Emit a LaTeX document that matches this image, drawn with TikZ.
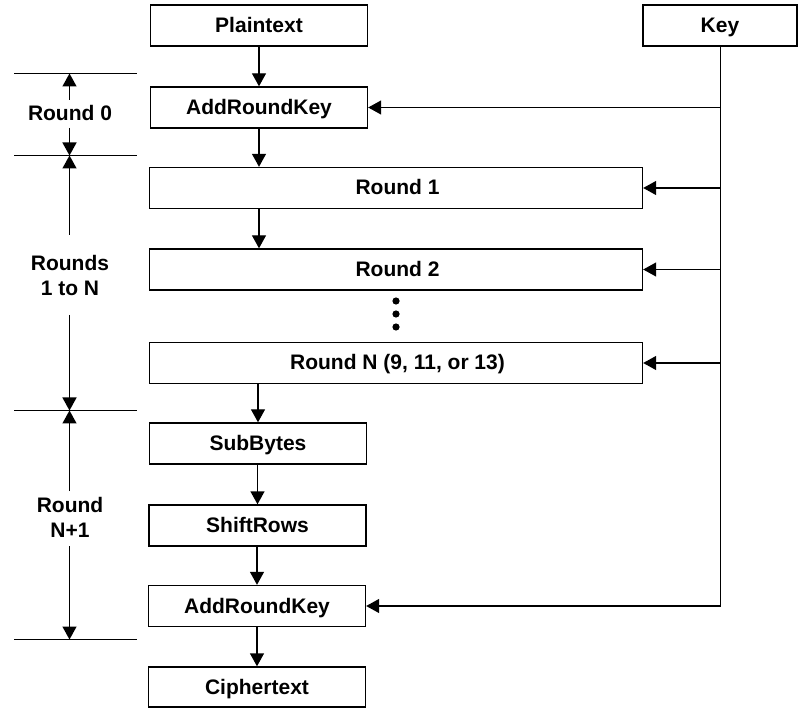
\documentclass[tikz,border=0pt]{standalone}
\usepackage{fontspec}
\setmainfont{Liberation Sans}
\usetikzlibrary{arrows.meta}
\begin{document}
\begin{tikzpicture}[x=1pt,y=-1pt,
  box/.style={draw,line width=1.4pt,inner sep=0pt,minimum height=41pt,text height=15pt,text depth=1pt,font=\fontsize{21}{25}\selectfont\bfseries},
  small/.style={box,minimum width=217pt},
  big/.style={box,minimum width=493pt},
  arr/.style={line width=1.4pt,-{Triangle[length=13pt,width=14pt]}},
  ln/.style={line width=1.4pt},
  lab/.style={align=center,inner sep=0pt,font=\fontsize{21}{25}\selectfont\bfseries}]
\useasboundingbox (0,0) rectangle (798,708);
% boxes
\node[small] (pt) at (259,25.5) {Plaintext};
\node[box,minimum width=154pt] (key) at (720,25.5) {Key};
\node[small] (ark0) at (259,107.5) {AddRoundKey};
\node[big] (r1) at (396,188) {\hspace*{3pt}Round 1};
\node[big] (r2) at (396,269.5) {\hspace*{3pt}Round 2};
\node[big] (rn) at (396,363) {\hspace*{3pt}Round N (9, 11, or 13)};
\node[small] (sb) at (258,443.5) {SubBytes};
\node[small] (sr) at (257.5,525.5) {ShiftRows};
\node[small] (ark2) at (257,606) {AddRoundKey};
\node[small,minimum height=40pt] (ct) at (257,687) {Ciphertext};
% dots
\foreach \yy in {301,314,327} \fill (396,\yy) circle (3.6pt);
% flow
\draw[arr] (pt) -- (ark0);
\draw[arr] (ark0.south) -- (ark0.south |- r1.north);
\draw[arr] (ark0.south |- r1.south) -- (ark0.south |- r2.north);
\draw[arr] (sb.north |- rn.south) -- (sb.north);
\draw[arr] (sr.north |- sb.south) -- (sr.north);
\draw[arr] (ark2.north |- sr.south) -- (ark2.north);
\draw[arr] (ark2) -- (ct);
% key distribution
\coordinate (kx) at (720.5,0);
\draw[arr] (kx |- key.south) |- (ark2.east);
\draw[arr] (kx |- ark0.east) -- (ark0.east);
\draw[arr] (kx |- r1.east) -- (r1.east);
\draw[arr] (kx |- r2.east) -- (r2.east);
\draw[arr] (kx |- rn.east) -- (rn.east);
% left dimension lines
\coordinate (h0) at (14,73.5);
\coordinate (h1) at (14,155.5);
\coordinate (h2) at (14,410.5);
\coordinate (h3) at (14,639.5);
\foreach \h in {h0,h1,h2,h3} \draw[ln] (\h) -- ++(123,0);
\coordinate (vx) at (69.5,0);
\node[lab] (l0) at (70,113) {Round 0};
\node[lab] (l1) at (70,275) {Rounds\\1 to N};
\node[lab] (l2) at (70,517) {Round\\N+1};
\draw[arr] (vx |- 0,100) -- (vx |- h0);
\draw[arr] (vx |- 0,128) -- (vx |- h1);
\draw[arr] (vx |- 0,235) -- (vx |- h1);
\draw[arr] (vx |- 0,315) -- (vx |- h2);
\draw[arr] (vx |- 0,491) -- (vx |- h2);
\draw[arr] (vx |- 0,546) -- (vx |- h3);
\end{tikzpicture}
\end{document}
